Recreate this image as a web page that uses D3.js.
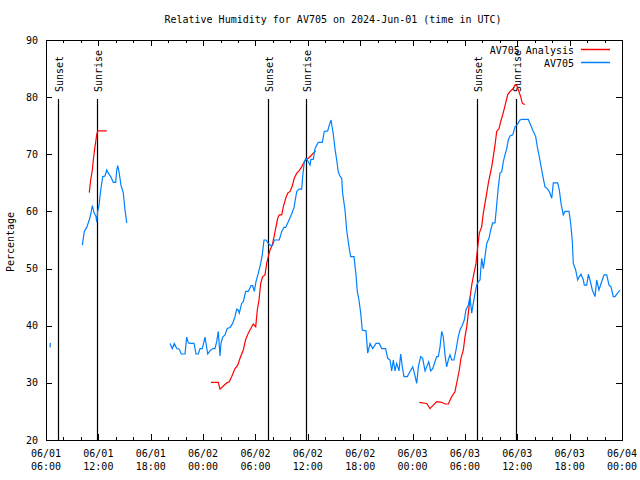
<!DOCTYPE html>
<html><head><meta charset="utf-8">
<script src="https://cdn.jsdelivr.net/npm/d3@7"></script>
<style>
body{margin:0;background:#fff;}
text{font-family:"DejaVu Sans Mono","Liberation Mono",monospace;font-size:10px;fill:#000;}
</style></head>
<body><svg id="c" width="640" height="480"></svg>
<script>
// times: hours since 2024-06-01 00:00 UTC
const title = "Relative Humidity for AV705 on 2024-Jun-01 (time in UTC)";
const yLabel = "Percentage";
const seriesNames = ["AV705 Analysis", "AV705"];
const yTicks = [20,30,40,50,60,70,80,90];
const xStartHour = 6, xEndHour = 72;

const obsSeg0T = [6.45, 6.5];
const obsSeg0V = [36.2, 37.0];
const obsSeg1T = [10.16,10.39,10.66,10.96,11.12,11.31,11.50,11.73,11.81,11.92,12.07,12.27,12.50,12.76,12.96,13.14,13.41,13.71,13.99,14.10,14.22,14.37,14.59,14.86,15.05,15.25];
const obsSeg1V = [54.1,56.5,57.2,58.5,59.5,61.0,59.8,59.1,58.1,60.0,61.0,63.75,66.1,66.2,67.25,66.7,66.1,65.1,65.1,67.25,68.0,66.9,64.6,63.2,60.25,58.0];
const obsSeg2T = [20.21,20.47,20.70,20.98,21.27,21.50,21.93,22.12,22.31,22.50,22.96,23.19,23.45,23.65,23.91,24.22,24.53,24.79,25.10,25.36,25.56,25.74,25.94,26.05,26.25,26.51,26.77,27.08,27.39,27.66,27.85,28.03,28.15,28.42,28.61,28.88,29.18,29.49,29.68,29.87,30.06,30.33,30.60,30.78,30.98,31.21,31.47,31.78,31.98,32.16,32.73,33.01,33.27,33.47,33.76,34.15,34.42,34.73,34.99,35.30,35.41,35.60,35.79,36.06,36.25,36.36,36.63,36.82,37.02,37.20,37.66,37.89,38.28,38.46,38.66,38.77,38.92,39.11,39.31,39.49,39.69,39.88,39.99,40.26,40.45,40.72,40.91,41.29,41.52,41.67,41.86,42.06,42.24,42.67,42.86,43.13,43.43,43.81,44.19,44.47,44.92,45.15,45.42,45.61,45.80,45.99,46.18,46.45,46.64,46.83,47.02,47.40,47.71,48.02,48.20,48.48,48.66,48.93,49.16,49.43,49.62,49.85,50.08,50.31,50.57,50.77,50.95,51.15,51.34,51.52,51.72,51.91,52.10,52.29,52.49,52.75,52.98,53.24,53.44,53.70,53.93,54.12,54.39,54.58,54.78,54.96,55.16,55.35,55.53,55.73,55.92,56.11,56.30,56.50,56.76,56.96,57.18,57.45,57.64,57.83,58.02,58.22,58.40,58.59,58.79,58.97,59.17,59.48,59.74,60.00,60.31,60.51,61.26,61.54,61.84,62.11,62.30,62.52,62.80,62.98,63.18,63.44,63.67,63.95,64.13,64.63,64.82,65.01,65.27,65.47,65.93,66.12,66.31,66.42,66.69,66.92,67.11,67.30,67.57,67.68,67.96,68.14,68.33,68.60,68.91,69.10,69.36,69.67,69.94,70.25,70.51,70.74,71.00,71.20,71.46,71.77];
const obsSeg2V = [36.9,36.0,36.9,36.0,35.9,35.05,35.05,38.0,37.0,36.9,36.9,35.05,35.05,36.0,36.0,38.0,35.05,35.6,36.0,36.0,37.2,39.0,34.7,36.9,38.0,38.4,39.5,39.7,40.4,41.6,42.9,42.75,42.2,43.9,44.2,46.0,46.0,47.0,47.0,46.0,47.7,49.2,50.9,52.4,55.0,55.0,54.4,54.0,54.1,55.0,55.0,56.5,57.2,57.2,58.2,59.55,60.7,63.5,63.9,63.9,66.1,68.7,69.3,68.7,68.1,69.1,69.1,71.0,71.6,72.1,72.1,74.0,74.1,75.1,76.0,74.95,73.5,71.0,69.0,66.9,66.2,65.8,63.2,60.25,56.75,53.8,52.1,52.1,48.9,46.0,44.5,42.2,39.25,39.1,35.2,36.9,36.0,36.9,36.9,36.0,36.0,34.3,34.0,32.1,34.0,32.1,33.4,32.1,35.05,32.8,31.1,31.1,32.0,32.8,31.8,29.9,32.8,34.6,34.3,32.1,32.8,33.7,32.1,32.5,33.7,34.6,34.6,36.3,39.0,38.1,34.9,32.8,34.0,34.9,34.0,34.0,35.75,38.1,39.25,40.1,41.0,42.75,43.6,45.1,42.2,43.9,45.65,47.1,47.7,48.0,51.8,50.0,52.1,54.4,55.3,56.75,58.0,58.0,61.1,64.3,66.7,66.95,68.7,69.9,71.0,72.5,73.2,73.4,74.8,75.2,76.0,76.1,76.1,75.1,74.0,73.1,71.3,69.6,67.25,65.8,64.3,64.0,63.5,62.3,65.0,65.0,63.75,61.4,59.4,60.0,60.0,57.9,54.7,50.9,49.75,48.0,48.6,49.0,48.0,47.1,47.1,49.0,48.0,46.25,45.1,48.0,46.25,47.7,48.9,48.9,47.1,46.8,45.1,45.1,45.65,46.25];

const anaSeg1T = [10.96,11.12,11.31,11.42,11.61,11.81,11.92,12.96];
const anaSeg1V = [63.3,65.5,67.25,69.0,71.3,73.4,74.1,74.1];
const anaSeg2T = [24.91,25.74,25.94,26.32,26.71,27.00,27.28,27.66,27.97,28.23,28.61,28.88,29.18,29.49,29.75,30.03,30.21,30.41,30.60,30.83,31.09,31.29,31.47,31.67,31.93,32.13,32.35,32.55,32.73,33.01,33.19,33.47,33.70,33.96,34.22,34.45,34.73,34.99,35.30,35.48,35.76,36.06,36.33,36.63,36.90];
const anaSeg2V = [30.1,30.1,28.9,29.45,30.0,30.2,31.1,32.5,33.1,34.3,35.75,37.6,38.7,39.55,40.3,39.8,42.75,44.5,47.4,48.6,48.9,50.9,52.1,53.25,54.1,55.6,57.3,58.8,59.4,59.4,60.8,62.3,63.2,63.5,64.45,65.8,66.7,67.1,67.8,68.4,69.0,69.3,69.7,70.2,70.6];
const anaSeg3T = [48.77,49.62,50.00,50.38,50.77,51.34,51.72,52.10,52.49,52.86,53.13,53.36,53.55,53.82,54.01,54.21,54.39,54.58,54.78,55.04,55.27,55.47,55.65,55.92,56.11,56.30,56.50,56.68,56.88,57.07,57.25,57.45,57.64,57.91,58.10,58.33,58.51,58.71,58.90,59.17,59.48,59.74,59.93,60.12,60.39,60.58,60.89];
const anaSeg3V = [26.6,26.4,25.5,26.1,26.7,26.6,26.3,26.3,27.6,28.45,30.5,32.25,34.3,35.75,38.1,39.8,42.2,44.8,47.1,49.2,50.9,53.8,56.2,57.3,59.7,61.4,63.2,64.9,66.4,67.8,69.6,71.6,74.0,74.5,75.7,76.9,78.0,79.2,80.4,81.0,81.4,82.1,82.1,81.25,80.1,78.9,78.7];

const sunEventNames = ["Sunset","Sunrise","Sunset","Sunrise","Sunset","Sunrise"];
const sunEventT = [7.375, 11.90, 31.44, 35.79, 55.39, 59.85];

const colors = ["#ff0000", "#0080ff"];

const base = Date.UTC(2024,5,1,0,0);
const toDate = h => new Date(base + h*3600000);

const svg = d3.select("#c");
const m = {l:46, r:622, t:40, b:440};
const x = d3.scaleUtc().domain([toDate(xStartHour), toDate(xEndHour)]).range([m.l, m.r]);
const y = d3.scaleLinear().domain([20,90]).range([m.b, m.t]);

// frame
svg.append("rect").attr("x",m.l+0.5).attr("y",m.t+0.5).attr("width",m.r-m.l).attr("height",m.b-m.t)
  .attr("fill","none").attr("stroke","#000").attr("stroke-width",1);

const majorT = d3.range(xStartHour, xEndHour+0.01, 6).map(toDate);
const minorT = d3.range(xStartHour, xEndHour+0.01, 2).filter(h => (h - xStartHour) % 6 !== 0).map(toDate);
const g = svg.append("g").attr("stroke","#000").attr("stroke-width",1).attr("shape-rendering","crispEdges");
majorT.forEach(d => {
  const xx = Math.round(x(d))+0.5;
  g.append("line").attr("x1",xx).attr("x2",xx).attr("y1",m.b).attr("y2",m.b-6);
  g.append("line").attr("x1",xx).attr("x2",xx).attr("y1",m.t).attr("y2",m.t+6);
});
minorT.forEach(d => {
  const xx = Math.round(x(d))+0.5;
  g.append("line").attr("x1",xx).attr("x2",xx).attr("y1",m.b).attr("y2",m.b-3);
  g.append("line").attr("x1",xx).attr("x2",xx).attr("y1",m.t).attr("y2",m.t+3);
});
yTicks.forEach(v => {
  const yy = Math.round(y(v))+0.5;
  g.append("line").attr("x1",m.l).attr("x2",m.l+6).attr("y1",yy).attr("y2",yy);
  g.append("line").attr("x1",m.r).attr("x2",m.r-6).attr("y1",yy).attr("y2",yy);
  svg.append("text").attr("x",38).attr("y",y(v)+3.5).attr("text-anchor","end").text(v);
});
const fmtD = d3.utcFormat("%m/%d"), fmtH = d3.utcFormat("%H:%M");
majorT.forEach(d => {
  svg.append("text").attr("x",x(d)).attr("y",457).attr("text-anchor","middle").text(fmtD(d));
  svg.append("text").attr("x",x(d)).attr("y",470).attr("text-anchor","middle").text(fmtH(d));
});

// sun events
sunEventT.forEach((h,i) => {
  const xx = Math.round(x(toDate(h)))+0.5;
  svg.append("line").attr("x1",xx).attr("x2",xx).attr("y1",99).attr("y2",m.b)
    .attr("stroke","#000").attr("stroke-width",1.2);
  svg.append("text").attr("transform",`translate(${xx+4},92) rotate(-90)`).text(sunEventNames[i]);
});

// series
const line = d3.line().x(d => x(toDate(d[0]))).y(d => y(d[1]));
const zip = (t,v) => t.map((tt,i) => [tt, v[i]]);
[[anaSeg1T,anaSeg1V],[anaSeg2T,anaSeg2V],[anaSeg3T,anaSeg3V]].forEach(([t,v]) => {
  svg.append("path").attr("d", line(zip(t,v))).attr("fill","none").attr("stroke",colors[0]).attr("stroke-width",1.2);
});
[[obsSeg0T,obsSeg0V],[obsSeg1T,obsSeg1V],[obsSeg2T,obsSeg2V]].forEach(([t,v]) => {
  svg.append("path").attr("d", line(zip(t,v))).attr("fill","none").attr("stroke",colors[1]).attr("stroke-width",1.2);
});

// title & labels
svg.append("text").attr("x",333).attr("y",23).attr("text-anchor","middle").text(title);
svg.append("text").attr("transform","translate(14,242) rotate(-90)").attr("text-anchor","middle").text(yLabel);

// legend
seriesNames.forEach((n,i) => {
  const yy = 50 + i*13;
  svg.append("text").attr("x",574).attr("y",yy+3.5).attr("text-anchor","end").text(n);
  svg.append("line").attr("x1",581).attr("x2",610).attr("y1",yy-0.5).attr("y2",yy-0.5)
    .attr("stroke",colors[i]).attr("stroke-width",1.5);
});
</script>
</body></html>
